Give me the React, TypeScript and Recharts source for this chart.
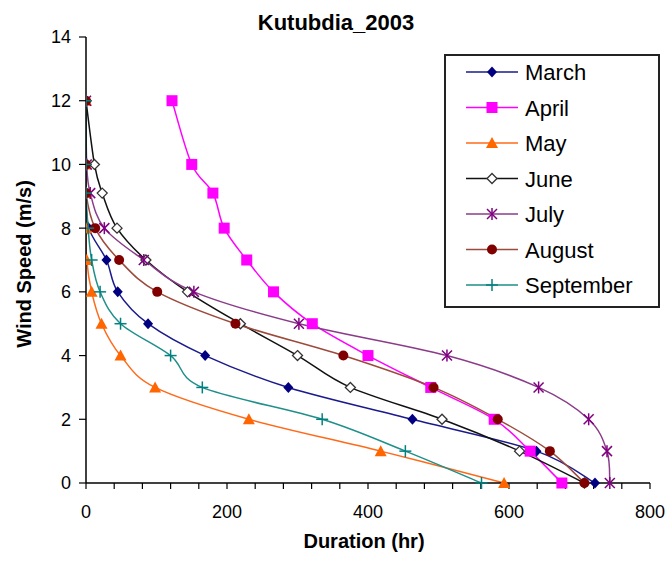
import { Line, LineChart, XAxis, YAxis } from 'recharts';

const FONT = '"Liberation Sans", Arial, sans-serif';

// wind speed levels (m/s), shared by every month
const speed = [12, 10, 9.1, 8, 7, 6, 5, 4, 3, 2, 1, 0];

// duration (hr), one value per speed level
const march = [0, 0, 0, 4, 29, 45, 88, 169, 287, 463, 639, 722];
const april = [122, 150, 180, 196, 228, 266, 321, 400, 489, 579, 630, 675];
const may = [0, 0, 0, 0, 1, 8, 22, 49, 98, 231, 418, 593];
const june = [0, 12, 23, 44, 85, 144, 219, 300, 375, 505, 615, 707];
const july = [0, 1, 6, 26, 82, 153, 302, 512, 642, 713, 739, 743];
const august = [0, 0, 0, 13, 47, 101, 212, 365, 493, 584, 658, 707];
const september = [0, 0, 0, 3, 8, 20, 49, 120, 165, 335, 453, 561];

const xTicks = [0, 40, 80, 120, 160, 200, 240, 280, 320, 360, 400, 440, 480, 520, 560, 600, 640, 680, 720, 760, 800];
const yTicks = [0, 2, 4, 6, 8, 10, 12, 14];

type Shape = 'diamond' | 'square' | 'triangle' | 'openDiamond' | 'star' | 'circle' | 'plus';

const series: { name: string; values: number[]; line: string; mark: string; shape: Shape }[] = [
  { name: 'March', values: march, line: '#1a1a8c', mark: '#000080', shape: 'diamond' },
  { name: 'April', values: april, line: '#ff00ff', mark: '#ff00ff', shape: 'square' },
  { name: 'May', values: may, line: '#ff6a1a', mark: '#ff6600', shape: 'triangle' },
  { name: 'June', values: june, line: '#111111', mark: '#333333', shape: 'openDiamond' },
  { name: 'July', values: july, line: '#8a3c8a', mark: '#800080', shape: 'star' },
  { name: 'August', values: august, line: '#9c4a3c', mark: '#800000', shape: 'circle' },
  { name: 'September', values: september, line: '#1f8f8a', mark: '#008080', shape: 'plus' },
];

// Excel-style smoothed line (uniform Catmull-Rom as cubic beziers), passed to Recharts as a curve factory
const smoothCurve = (context: any) => {
  let pts: number[][] = [];
  return {
    areaStart() {},
    areaEnd() {},
    lineStart() {
      pts = [];
    },
    point(x: number, y: number) {
      pts.push([+x, +y]);
    },
    lineEnd() {
      if (!pts.length) return;
      context.moveTo(pts[0][0], pts[0][1]);
      for (let i = 0; i < pts.length - 1; i++) {
        const p0 = pts[i - 1] ?? pts[i];
        const p1 = pts[i];
        const p2 = pts[i + 1];
        const p3 = pts[i + 2] ?? p2;
        context.bezierCurveTo(
          p1[0] + (p2[0] - p0[0]) / 6,
          p1[1] + (p2[1] - p0[1]) / 6,
          p2[0] - (p3[0] - p1[0]) / 6,
          p2[1] - (p3[1] - p1[1]) / 6,
          p2[0],
          p2[1],
        );
      }
    },
  };
};

function Marker({ shape, x, y, color }: { shape: Shape; x: number; y: number; color: string }) {
  switch (shape) {
    case 'diamond':
      return <polygon points={`${x},${y - 5.5} ${x + 5},${y} ${x},${y + 5.5} ${x - 5},${y}`} fill={color} />;
    case 'square':
      return <rect x={x - 5.5} y={y - 5.5} width={11} height={11} fill={color} />;
    case 'triangle':
      return <polygon points={`${x},${y - 6} ${x + 6},${y + 5} ${x - 6},${y + 5}`} fill={color} />;
    case 'openDiamond':
      return (
        <polygon
          points={`${x},${y - 5} ${x + 5},${y} ${x},${y + 5} ${x - 5},${y}`}
          fill="#fff"
          stroke={color}
          strokeWidth={1.3}
        />
      );
    case 'star':
      return (
        <g stroke={color} strokeWidth={1.5}>
          <line x1={x - 5} y1={y - 5} x2={x + 5} y2={y + 5} />
          <line x1={x - 5} y1={y + 5} x2={x + 5} y2={y - 5} />
          <line x1={x} y1={y - 6} x2={x} y2={y + 6} />
        </g>
      );
    case 'circle':
      return <circle cx={x} cy={y} r={5} fill={color} />;
    case 'plus':
      return (
        <g stroke={color} strokeWidth={1.5}>
          <line x1={x - 6} y1={y} x2={x + 6} y2={y} />
          <line x1={x} y1={y - 6} x2={x} y2={y + 6} />
        </g>
      );
  }
}

function LegendBox() {
  return (
    <svg width={216} height={254} style={{ position: 'absolute', left: 444, top: 54 }}>
      <rect x={1} y={1} width={214} height={252} fill="#fff" stroke="#222" strokeWidth={2} />
      {series.map((s, i) => {
        const cy = 18 + i * 35.5;
        return (
          <g key={s.name}>
            <line x1={22} y1={cy} x2={74} y2={cy} stroke={s.line} strokeWidth={1.5} />
            <Marker shape={s.shape} x={48} y={cy} color={s.mark} />
            <text x={81} y={cy + 8} fontSize={22} fontFamily={FONT} fill="#000">
              {s.name}
            </text>
          </g>
        );
      })}
    </svg>
  );
}

export default function App() {
  return (
    <div style={{ position: 'absolute', left: 0, top: 0, width: 668, height: 562, background: '#fff' }}>
      <LineChart width={668} height={562} margin={{ top: 37, right: 18, bottom: 39, left: 30 }}>
        <XAxis
          type="number"
          dataKey="x"
          domain={[0, 800]}
          ticks={xTicks}
          interval={0}
          tickFormatter={(v: number) => (v % 200 === 0 ? String(v) : '')}
          tickSize={6}
          tickMargin={16}
          height={40}
          axisLine={{ stroke: '#000', strokeWidth: 1.5 }}
          tickLine={{ stroke: '#000', strokeWidth: 1.2 }}
          tick={{ fontSize: 18, fill: '#000', fontFamily: FONT }}
          allowDataOverflow
        />
        <YAxis
          type="number"
          dataKey="y"
          domain={[0, 14]}
          ticks={yTicks}
          interval={0}
          width={56}
          tickSize={7}
          tickMargin={8}
          axisLine={{ stroke: '#000', strokeWidth: 1.5 }}
          tickLine={{ stroke: '#000', strokeWidth: 1.2 }}
          tick={{ fontSize: 18, fill: '#000', fontFamily: FONT }}
        />
        {series.map((s) => (
          <Line
            key={s.name}
            name={s.name}
            data={s.values.map((x, i) => ({ x, y: speed[i] }))}
            dataKey="y"
            type={smoothCurve as any}
            stroke={s.line}
            strokeWidth={1.5}
            dot={(p: any) => <Marker key={`${s.name}-${p.index}`} shape={s.shape} x={p.cx} y={p.cy} color={s.mark} />}
            activeDot={false}
            isAnimationActive={false}
          />
        ))}
      </LineChart>
      <svg width={668} height={562} style={{ position: 'absolute', left: 0, top: 0, pointerEvents: 'none' }}>
        <text x={336} y={30} textAnchor="middle" fontSize={22} fontWeight="bold" fontFamily={FONT} fill="#000">
          Kutubdia_2003
        </text>
        <text x={364} y={548} textAnchor="middle" fontSize={20} fontWeight="bold" fontFamily={FONT} fill="#000">
          Duration (hr)
        </text>
        <text
          x={31}
          y={264}
          textAnchor="middle"
          fontSize={20}
          fontWeight="bold"
          fontFamily={FONT}
          fill="#000"
          transform="rotate(-90 31 264)"
        >
          Wind Speed (m/s)
        </text>
      </svg>
      <LegendBox />
    </div>
  );
}
